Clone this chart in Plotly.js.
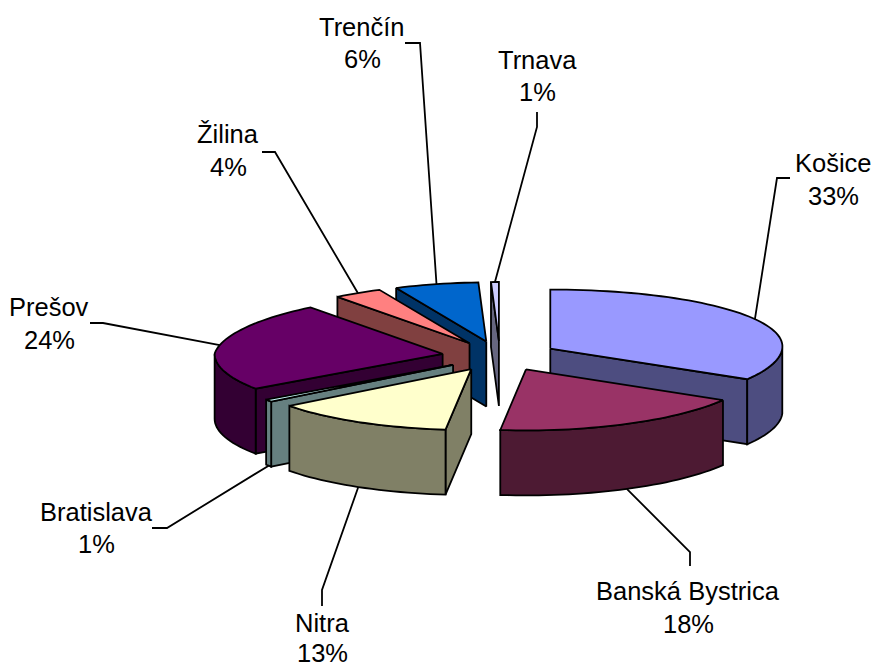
<!DOCTYPE html>
<html>
<head>
<meta charset="utf-8">
<script src="https://cdn.plot.ly/plotly-3.0.1.min.js"></script>
<style>html,body{margin:0;padding:0;background:#fff}#chart{width:876px;height:669px}</style>
</head>
<body>
<div id="chart"></div>
<script>
// Data (share of total, percent)
const regions = ['Košice','Banská Bystrica','Nitra','Bratislava','Prešov','Žilina','Trenčín','Trnava'];
const shares  = [33.4, 18.4, 12.9, 0.6, 24.1, 3.6, 6.4, 0.6];

// Styles
const topColors  = ['#9999FF','#993366','#FFFFCC','#CCFFFF','#660066','#FF8080','#0066CC','#CCCCFF'];
const wallColors = ['#4D4D80','#4D1A33','#808066','#668080','#330033','#804040','#003366','#666680'];
const drawOrder  = [7,6,5,4,3,2,0,1];

// Label placement (pixels): [label x, name y, percent y, elbow x, elbow y, end x, end y]
const labelLayout = [
  [833,163,196, 777,178, 790,178],
  [688,591,624, 690,552, 690,566],
  [322,623,653, 322,590, 322,606],
  [96,512,544,  167,528, 152,528],
  [49,307,340,  103,323, 90,323],
  [228,134,167, 275,152, 262,152],
  [362,27,59,   420,43,  405,43],
  [537,60,92,   537,127, 537,112]
];

// Oblique projection of an exploded pie
const C = {x:500, y:356, explodeX:58, explodeY:15, ryBack:59, ryFront:61, depth:65};
const rad = d => d*Math.PI/180;

function apex(mid){ return {x:C.x + C.explodeX*Math.sin(rad(mid)), y:C.y - C.explodeY*Math.cos(rad(mid))}; }
function rim(a, t){
  const c = Math.cos(rad(t)), s = Math.sin(rad(t));
  const rx = s>0 ? 232+8*c : 228-18*Math.max(c,0);
  return {x:a.x + rx*s, y:a.y - (c>0?C.ryBack:C.ryFront)*c};
}
function arc(a, t1, t2){
  const pts = [], n = Math.max(2, Math.ceil(Math.abs(t2-t1)/2));
  for(let i=0;i<=n;i++) pts.push(rim(a, t1+(t2-t1)*i/n));
  return pts;
}
function poly(pts, fill){
  const xs = pts.map(p=>p.x).concat(pts[0].x), ys = pts.map(p=>p.y).concat(pts[0].y);
  return {type:'scatter', mode:'lines', x:xs, y:ys, fill:'toself', fillcolor:fill,
          line:{color:'#000', width:1.8, simplify:false}, hoverinfo:'skip', showlegend:false};
}
const down = p => ({x:p.x, y:p.y+C.depth});

// Slice angles from the shares
const total = shares.reduce((s,v)=>s+v,0);
let acc = 0;
const slices = shares.map(v=>{
  const t1 = acc/total*360; acc += v; const t2 = acc/total*360;
  const mid = (t1+t2)/2;
  return {t1,t2,mid,a:apex(mid)};
});

const traces = [];
drawOrder.forEach(i=>{
  const s = slices[i];
  if(s.t1>=180){ const e=rim(s.a,s.t1); traces.push(poly([s.a,e,down(e),down(s.a)],wallColors[i])); }
  if(s.t2<=180){ const e=rim(s.a,s.t2); traces.push(poly([s.a,e,down(e),down(s.a)],wallColors[i])); }
  const w1=Math.max(s.t1,90), w2=Math.min(s.t2,270);
  if(w2>w1){ const up=arc(s.a,w1,w2); traces.push(poly(up.concat(up.slice().reverse().map(down)),wallColors[i])); }
  traces.push(poly([s.a].concat(arc(s.a,s.t1,s.t2)),topColors[i]));
});

// Labels and leader lines
const font = {family:'"Liberation Sans", Arial, sans-serif', size:25.5, color:'#000'};
const annotations = [], shapes = [];
regions.forEach((name,i)=>{
  const L = labelLayout[i], s = slices[i];
  const pct = Math.round(shares[i]/total*100)+'%';
  [[name,L[1]],[pct,L[2]]].forEach(([text,y])=>annotations.push(
    {x:L[0],y:y,xref:'x',yref:'y',text:text,showarrow:false,xanchor:'center',yanchor:'middle',font:font}));
  let p = rim(s.a,s.mid);
  if(s.mid>90 && s.mid<270) p = down(p);
  shapes.push({type:'path',xref:'x',yref:'y',line:{color:'#000',width:1.8},
    path:`M${p.x},${p.y}L${L[3]},${L[4]}L${L[5]},${L[6]}`});
});

Plotly.newPlot('chart', traces, {
  width:876, height:669, margin:{l:0,r:0,t:0,b:0}, paper_bgcolor:'#fff', plot_bgcolor:'#fff',
  xaxis:{range:[0,876],visible:false,fixedrange:true},
  yaxis:{range:[669,0],visible:false,fixedrange:true},
  showlegend:false, annotations:annotations, shapes:shapes, hovermode:false
}, {displayModeBar:false, staticPlot:true});
</script>
</body>
</html>
